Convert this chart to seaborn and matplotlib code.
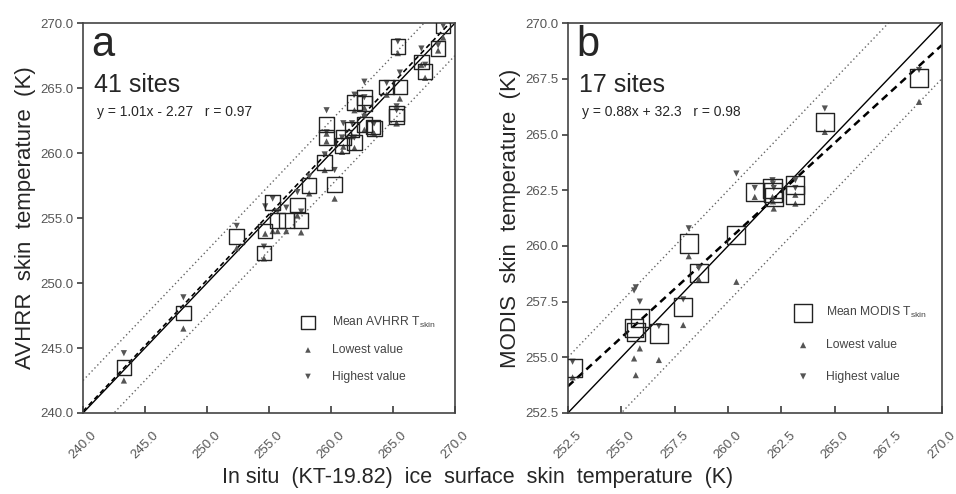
import numpy as np
import pandas as pd
import matplotlib
matplotlib.use("Agg")
import matplotlib.pyplot as plt
import seaborn as sns

# ---------------- data ----------------
# Panel a: AVHRR vs in situ
x_a = [243.3, 248.1, 252.4, 254.6, 254.7, 255.3, 255.7, 256.4, 257.3, 257.6,
       258.25, 259.5, 259.65, 259.65, 260.3, 260.9, 261.0, 261.7, 261.9, 261.9,
       262.7, 262.7, 262.7, 263.4, 263.5, 264.5, 265.3, 265.3, 265.56, 265.4,
       267.3, 267.6, 268.65, 269.06]
mean_a = [243.5, 247.7, 253.6, 252.3, 254.0, 256.2, 254.8, 254.8, 256.0, 254.8,
          257.5, 259.3, 261.2, 262.2, 257.6, 260.6, 261.2, 261.8, 260.8, 263.9,
          264.3, 263.8, 262.2, 262.0, 261.9, 265.1, 263.05, 262.8, 265.1, 268.2,
          267.0, 266.3, 268.05, 269.8]
low_a = [242.5, 246.5, 252.7, 251.9, 253.8, 254.0, 254.0, 254.0, 255.2, 253.9,
         256.9, 258.7, 260.9, 261.5, 256.5, 260.1, 260.5, 261.3, 260.4, 263.3,
         263.5, 263.0, 261.8, 261.6, 261.5, 264.5, 262.3, 262.3, 264.2, 267.7,
         266.8, 265.8, 267.9, 268.9]
high_a = [244.6, 248.9, 254.4, 252.8, 255.9, 256.5, 255.5, 255.8, 257.0, 255.5,
          258.2, 259.9, 261.6, 263.3, 258.7, 261.2, 262.3, 262.3, 261.2, 264.5,
          265.5, 264.3, 262.8, 262.3, 262.3, 265.4, 263.6, 263.3, 266.2, 268.6,
          268.05, 266.8, 268.3, 269.8]

# Panel b: MODIS vs in situ
x_b = [252.72, 255.68, 255.6, 255.87, 256.76, 257.9, 258.16, 258.63, 260.39,
       261.25, 262.08, 262.14, 263.15, 263.15, 264.53, 268.94, 262.1]
mean_b = [254.5, 256.15, 256.3, 256.75, 256.07, 257.24, 260.11, 258.77, 260.49,
          262.43, 262.58, 262.21, 262.73, 262.28, 265.57, 267.54, 262.4]
low_b = [254.1, 254.2, 254.95, 255.4, 254.88, 256.45, 259.54, 258.5, 258.39,
         262.2, 262.2, 261.68, 262.3, 261.9, 265.12, 266.47, 262.0]
high_b = [254.8, 258.14, 258.0, 257.5, 256.4, 257.6, 260.79, 259.0, 263.25,
          262.6, 262.95, 262.6, 262.95, 262.6, 266.17, 267.9, 262.8]

# Regression lines as drawn (slope, intercept) and envelope offsets
fit_a = (1.01, -2.27)
fit_b = (0.875, 32.76)
band = 2.5

ticks_a = [240.0, 245.0, 250.0, 255.0, 260.0, 265.0, 270.0]
ticks_b = [252.5, 255.0, 257.5, 260.0, 262.5, 265.0, 267.5, 270.0]

eq_a = "y = 1.01x - 2.27   r = 0.97"
eq_b = "y = 0.88x + 32.3   r = 0.98"

# ---------------- style ----------------
sns.set_theme(style="ticks")
plt.rcParams['font.family'] = ['Liberation Sans', 'DejaVu Sans']
plt.rcParams['mathtext.fontset'] = 'custom'
plt.rcParams['mathtext.rm'] = 'Liberation Sans'

fig = plt.figure(figsize=(9.56, 4.94), dpi=100)
ax_a = fig.add_axes([0.0868, 0.164, 0.389, 0.789])
ax_b = fig.add_axes([0.594, 0.164, 0.391, 0.789])

spine_col = "#444444"
tick_col = "#555555"


def draw_panel(ax, x, mean, low, high, fit, ticks, letter, sites, eq,
               sensor, sq_size, ylabel, dash_lw, tri_s):
    lo, hi = ticks[0], ticks[-1]
    line_x = np.array([lo, hi])
    # 1:1 line
    sns.lineplot(x=line_x, y=line_x, ax=ax, color="black", lw=1.0, zorder=2)
    # +/- band dotted
    for off in (band, -band):
        sns.lineplot(x=line_x, y=line_x + off, ax=ax, color="#666666",
                     lw=1.0, linestyle=(0, (1, 2)), zorder=2)
    # regression dashed
    sns.lineplot(x=line_x, y=fit[0] * line_x + fit[1], ax=ax, color="black",
                 lw=dash_lw, linestyle=(0, (3, 2)), zorder=2)
    df = pd.DataFrame({"x": x, "mean": mean, "low": low, "high": high})
    sns.scatterplot(data=df, x="x", y="low", ax=ax, marker="^", s=tri_s,
                    color="#555555", edgecolor="none", zorder=3,
                    label="Lowest value")
    sns.scatterplot(data=df, x="x", y="high", ax=ax, marker="v", s=tri_s,
                    color="#555555", edgecolor="none", zorder=3,
                    label="Highest value")
    sns.scatterplot(data=df, x="x", y="mean", ax=ax, marker="s", s=sq_size,
                    facecolor="none", edgecolor="#222222", linewidth=1.0,
                    zorder=4, label=f"Mean {sensor} T$_{{\\rm skin}}$")
    ax.set_xlim(lo, hi)
    ax.set_ylim(lo, hi)
    ax.set_xticks(ticks)
    ax.set_yticks(ticks)
    ax.set_xticklabels([f"{t:.1f}" for t in ticks], rotation=45,
                       ha="center", va="top", fontsize=9.5, color=tick_col)
    ax.set_yticklabels([f"{t:.1f}" for t in ticks], fontsize=9.5, color=tick_col)
    ax.tick_params(axis="x", direction="in", length=5, color=spine_col, pad=12)
    ax.tick_params(axis="y", direction="out", length=4, color=spine_col, pad=3)
    for sp in ax.spines.values():
        sp.set_visible(True)
        sp.set_color(spine_col)
        sp.set_linewidth(1.2)
    ax.set_xlabel("")
    ax.set_ylabel(ylabel, fontsize=16, labelpad=3)
    ax.text(0.022, 0.915, letter, transform=ax.transAxes, fontsize=30,
            ha="left", va="baseline")
    ax.text(0.03, 0.823, sites, transform=ax.transAxes, fontsize=18,
            ha="left", va="baseline")
    ax.text(0.038, 0.762, eq, transform=ax.transAxes, fontsize=10,
            ha="left", va="baseline")
    h, l = ax.get_legend_handles_labels()
    order = [2, 0, 1]
    return [h[i] for i in order], [l[i] for i in order]


h, l = draw_panel(ax_a, x_a, mean_a, low_a, high_a, fit_a, ticks_a, "a",
                  "41 sites", eq_a, "AVHRR", 110,
                  "AVHRR  skin  temperature  (K)", 1.2, 20)
ax_a.legend(h, l, loc="lower right", bbox_to_anchor=(0.978, 0.05), frameon=False,
            fontsize=8.7, labelcolor="#444444", labelspacing=1.2,
            handletextpad=1.0, markerscale=0.9)

h, l = draw_panel(ax_b, x_b, mean_b, low_b, high_b, fit_b, ticks_b, "b",
                  "17 sites", eq_b, "MODIS", 170,
                  "MODIS  skin  temperature  (K)", 1.8, 20)
ax_b.legend(h, l, loc="lower right", bbox_to_anchor=(0.99, 0.05), frameon=False,
            fontsize=8.7, labelcolor="#444444", labelspacing=1.6,
            handletextpad=0.9, markerscale=1.0)

fig.text(0.5, 0.022, "In situ  (KT-19.82)  ice  surface  skin  temperature  (K)",
         ha="center", va="baseline", fontsize=15.5)

fig.savefig("out.png", dpi=100, facecolor="white")
